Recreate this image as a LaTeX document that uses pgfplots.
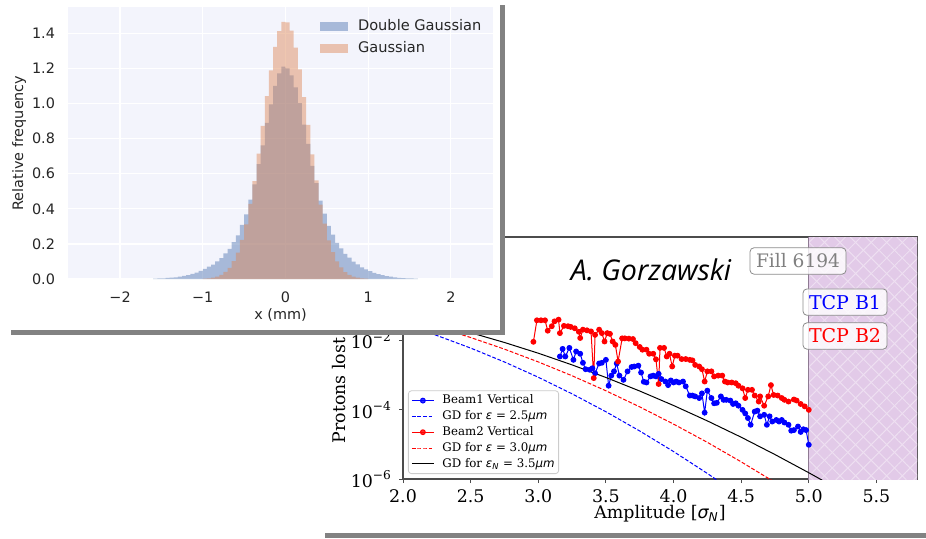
\documentclass[border=0pt]{standalone}
\usepackage{fontspec}
\setmainfont{DejaVu Serif}
\newfontfamily\dvsans{DejaVu Sans}
\newfontfamily\osans{Open Sans}
\usepackage{pgfplots}
\pgfplotsset{compat=1.18}
\usetikzlibrary{patterns.meta}
\definecolor{histbg}{HTML}{F3F4FC}
\definecolor{dgblue}{HTML}{4C72B0}
\definecolor{gorange}{HTML}{DD8452}
\definecolor{tcpfill}{HTML}{E2CAE8}
\definecolor{tcpedge}{HTML}{8E7A92}
\definecolor{shadow}{HTML}{828282}

\begin{document}
\begin{tikzpicture}
\path[use as bounding box] (0,0) rectangle (463pt,-269pt);

% ---- lower panel: loss profile (log) ----
\begin{axis}[
  at={(201.5pt,-239.5pt)}, anchor=south west, scale only axis,
  width=257pt, height=121pt,
  ymode=log, xmin=2, xmax=5.8, ymin=1e-6, ymax=10,
  xtick={2,2.5,3,3.5,4,4.5,5,5.5},
  xticklabels={2.0,2.5,3.0,3.5,4.0,4.5,5.0,5.5},
  ytick={1e-6,1e-4,1e-2,1},
  yticklabels={10\textsuperscript{−6},10\textsuperscript{−4},10\textsuperscript{−2},10\textsuperscript{0}},
  yminorticks=false,
  tick pos=left, tick align=outside, major tick length=2pt,
  axis line style={black!70, line width=0.6pt},
  tick style={black!70, line width=0.5pt},
  tick label style={font=\fontsize{8.7}{10}\selectfont},
  xlabel={Amplitude [{\dvsans\itshape σ\textsubscript{N}}]},
  xlabel style={at={(axis description cs:0.5,-0.145)}, anchor=center, font=\fontsize{8.7}{10}\selectfont},
  ylabel={Protons lost},
  ylabel style={at={(axis description cs:-0.1245,0.118)}, anchor=west, font=\fontsize{8.7}{10}\selectfont},
  legend style={at={(axis description cs:0.0097,0.0207)}, anchor=south west,
    font=\fontsize{5.9}{6.5}\selectfont, draw=black!20, rounded corners=1.5pt,
    fill=white, fill opacity=0.8, text opacity=1, inner sep=1.5pt, row sep=1.1pt,
    nodes={inner sep=0.5pt, text height=4.5pt, text depth=1.3pt},
    /tikz/every odd column/.append style={column sep=3.5pt}},
  legend cell align=left,
  legend image code/.code={\draw[mark repeat=2,mark phase=2,#1] plot coordinates {(0pt,0pt)(5.5pt,0pt)(11pt,0pt)};},
]
% collimator region
\addplot[fill=tcpfill, draw=none, forget plot] coordinates {(5,1e-7) (6,1e-7) (6,100) (5,100)};
\addplot[pattern={Lines[angle=45,distance=5.5pt,line width=0.5pt]}, pattern color=white!40!tcpfill, draw=none, forget plot]
  coordinates {(5,1e-7) (6,1e-7) (6,100) (5,100)};
\addplot[pattern={Lines[angle=-45,distance=5.5pt,line width=0.5pt]}, pattern color=white!40!tcpfill, draw=none, forget plot]
  coordinates {(5,1e-7) (6,1e-7) (6,100) (5,100)};
\addplot[tcpedge, line width=0.5pt, forget plot] coordinates {(5,1e-7) (5,100)};

\addplot[blue, line width=0.5pt, mark=*, mark size=1.2pt] coordinates {
(3.16,3.5e-3) (3.18,5.8e-3) (3.20,3.5e-3) (3.23,6.2e-3) (3.26,2.8e-3) (3.28,4.9e-3)
(3.31,4.2e-3) (3.33,2.3e-3) (3.35,1.5e-3) (3.38,1.45e-3) (3.40,1.6e-3) (3.42,1.15e-3)
(3.45,2.2e-3) (3.47,2.3e-3) (3.50,2.8e-3) (3.52,5.0e-4) (3.54,9.8e-4) (3.56,1.3e-3)
(3.58,2.2e-3) (3.60,9.8e-4) (3.63,7.4e-4) (3.66,1.3e-3) (3.69,1.74e-3) (3.71,1.8e-3)
(3.74,1.9e-3) (3.76,1.2e-3) (3.78,6.5e-4) (3.80,6.2e-4) (3.83,9.3e-4) (3.85,9.8e-4)
(3.87,9.3e-4) (3.89,1.1e-3) (3.91,7.8e-4) (3.94,6.6e-4) (3.96,5.2e-4) (3.98,7.1e-4)
(4.00,6.2e-4) (4.02,6.6e-4) (4.04,6.2e-4) (4.07,6.6e-4) (4.09,4.8e-4) (4.12,2.6e-4)
(4.14,2.6e-4) (4.16,2.45e-4) (4.19,2.2e-4) (4.21,3.0e-4) (4.23,8.3e-5) (4.25,3.6e-4)
(4.28,2.2e-4) (4.30,1.55e-4) (4.32,1.6e-4) (4.35,2.45e-4) (4.37,1.95e-4) (4.39,1.95e-4)
(4.42,1.86e-4) (4.44,1.48e-4) (4.46,1.55e-4) (4.48,1.32e-4) (4.51,1.0e-4) (4.53,7.9e-5)
(4.55,5.8e-5) (4.57,3.7e-5) (4.60,8.9e-5) (4.62,9.5e-5) (4.64,6.5e-5) (4.67,7.2e-5)
(4.69,3.7e-5) (4.71,6.5e-5) (4.73,4.6e-5) (4.76,5.1e-5) (4.78,4.6e-5) (4.80,5.1e-5)
(4.82,4.3e-5) (4.85,3.7e-5) (4.87,2.5e-5) (4.89,2.6e-5) (4.92,3.3e-5) (4.94,2.3e-5)
(4.96,2.75e-5) (4.98,2.6e-5) (5.00,9.8e-6)};
\addlegendentry{Beam1 Vertical}
\addplot[blue, line width=0.5pt, dash pattern=on 1.9pt off 0.9pt] coordinates {
(2.0,3.01e-2) (2.25,1.42e-2) (2.5,6.14e-3) (2.75,2.43e-3) (3.0,8.8e-4) (3.25,2.91e-4)
(3.5,8.83e-5) (3.75,2.45e-5) (4.0,6.24e-6) (4.25,1.45e-6) (4.5,3.1e-7)};
\addlegendentry{GD for {\dvsans\itshape ε} = 2.5{\dvsans\itshape μm}}
\addplot[red, line width=0.5pt, mark=*, mark size=1.2pt] coordinates {
(2.964,9.3e-3) (2.99,3.9e-2) (3.02,3.9e-2) (3.05,3.9e-2) (3.07,1.95e-2) (3.10,2.63e-2)
(3.12,3.63e-2) (3.15,4.07e-2) (3.16,1.66e-2) (3.19,2.69e-2) (3.22,2.63e-2) (3.24,2.51e-2)
(3.27,2.29e-2) (3.30,1.82e-2) (3.31,1.20e-2) (3.33,2.09e-2) (3.36,2.0e-2) (3.39,1.86e-2)
(3.41,8.3e-4) (3.42,1.48e-2) (3.45,2.09e-2) (3.47,1.66e-2) (3.49,9.5e-3) (3.51,1.66e-2)
(3.53,1.58e-2) (3.55,9.5e-3) (3.57,7.6e-3) (3.59,2.5e-3) (3.62,1.17e-2) (3.64,1.17e-2)
(3.67,1.15e-2) (3.70,1.12e-2) (3.72,8.5e-3) (3.75,6.6e-3) (3.77,5.5e-3) (3.80,5.5e-3)
(3.82,4.2e-3) (3.85,4.2e-3) (3.87,2.9e-3) (3.89,5.6e-4) (3.90,6.2e-3) (3.93,6.2e-3)
(3.95,3.5e-3) (3.97,4.2e-3) (3.99,1.8e-3) (4.01,3.7e-3) (4.03,3.7e-3) (4.06,2.95e-3)
(4.09,2.95e-3) (4.12,2.8e-3) (4.14,2.7e-3) (4.16,2.0e-3) (4.19,1.8e-3) (4.21,1.5e-3)
(4.23,6.6e-4) (4.25,1.3e-3) (4.28,1.3e-3) (4.30,9.3e-4) (4.33,9.8e-4) (4.36,9.8e-4)
(4.38,6.6e-4) (4.40,6.2e-4) (4.43,6.2e-4) (4.46,5.9e-4) (4.48,5.0e-4) (4.51,4.2e-4)
(4.53,2.2e-4) (4.55,3.8e-4) (4.58,3.8e-4) (4.60,2.6e-4) (4.63,1.74e-4) (4.64,2.45e-4)
(4.67,1.32e-4) (4.70,2.45e-4) (4.72,5.2e-4) (4.74,2.7e-4) (4.77,2.6e-4) (4.80,2.2e-4)
(4.82,1.95e-4) (4.85,1.74e-4) (4.89,2.0e-4) (4.91,1.86e-4) (4.94,1.48e-4) (4.97,1.26e-4)
(5.00,1.0e-4)};
\addlegendentry{Beam2 Vertical}
\addplot[red, line width=0.5pt, dash pattern=on 1.9pt off 0.9pt] coordinates {
(2.0,4.71e-2) (2.25,2.51e-2) (2.5,1.24e-2) (2.75,5.71e-3) (3.0,2.44e-3) (3.25,9.7e-4)
(3.5,3.57e-4) (3.75,1.22e-4) (4.0,3.88e-5) (4.25,1.15e-5) (4.5,3.14e-6) (4.75,8.0e-7)};
\addlegendentry{GD for {\dvsans\itshape ε} = 3.0{\dvsans\itshape μm}}
\addplot[black, line width=0.5pt] coordinates {
(2.0,5.24e-2) (2.25,3.09e-2) (2.5,1.71e-2) (2.75,8.9e-3) (3.0,4.36e-3) (3.25,2.0e-3)
(3.5,8.65e-4) (3.75,3.51e-4) (4.0,1.34e-4) (4.25,4.8e-5) (4.5,1.62e-5) (4.75,5.1e-6)
(5.0,1.52e-6) (5.1,9.2e-7)};
\addlegendentry{GD for {\dvsans\itshape ε\textsubscript{N}} = 3.5{\dvsans\itshape μm}}

\node[font=\osans\itshape\fontsize{14.3}{16}\selectfont] at (rel axis cs:0.4825,0.864) {A. Gorzawski};
\node[draw=black!45, rounded corners=2pt, fill=white, fill opacity=0.8, text opacity=1,
  text=black!50, inner sep=3pt, font=\fontsize{9.3}{11}\selectfont] at (rel axis cs:0.7685,0.901) {Fill 6194};
\node[draw=black!45, rounded corners=2pt, fill=white, fill opacity=0.8, text opacity=1,
  text=blue, inner sep=3pt, font=\fontsize{9.5}{11}\selectfont] at (rel axis cs:0.86,0.731) {TCP B1};
\node[draw=black!45, rounded corners=2pt, fill=white, fill opacity=0.8, text opacity=1,
  text=red, inner sep=3pt, font=\fontsize{9.5}{11}\selectfont] at (rel axis cs:0.86,0.591) {TCP B2};
\end{axis}

% panel frames
\fill[white] (0pt,0pt) rectangle (250pt,-165pt);
\fill[shadow] (5.5pt,-165pt) rectangle (252.5pt,-167.5pt);
\fill[shadow] (250pt,-2.5pt) rectangle (252.5pt,-167.5pt);
\fill[shadow] (162.5pt,-266.5pt) rectangle (463pt,-269pt);

% ---- upper panel: histogram ----
\begin{axis}[
  at={(34pt,-139.5pt)}, anchor=south west, scale only axis,
  width=212.5pt, height=136pt,
  xmin=-2.63, xmax=2.51, ymin=0, ymax=1.55,
  axis background/.style={fill=histbg},
  grid=major, grid style={white, line width=0.6pt},
  axis line style={draw=none}, major tick length=0pt,
  xtick={-2,-1,0,1,2}, xticklabels={−2,−1,0,1,2},
  ytick={0,0.2,0.4,0.6,0.8,1.0,1.2,1.4},
  yticklabels={0.0,0.2,0.4,0.6,0.8,1.0,1.2,1.4},
  tick label style={font=\dvsans\fontsize{7.2}{8.5}\selectfont, text=black!85},
  xticklabel style={yshift=-3pt}, yticklabel style={xshift=-3pt},
  xlabel={x (mm)}, ylabel={Relative frequency},
  label style={font=\dvsans\fontsize{7.2}{8.5}\selectfont, text=black!85},
  xlabel style={at={(axis description cs:0.5,-0.132)}, anchor=center},
  ylabel style={at={(axis description cs:-0.115,0.5)}, anchor=center},
  legend style={at={(axis description cs:0.578,0.985)}, anchor=north west, draw=none, fill=none,
    font=\dvsans\fontsize{7.3}{8.5}\selectfont, text=black!85, row sep=0pt,
    /tikz/every odd column/.append style={column sep=3pt}},
  legend cell align=left,
  legend image code/.code={\fill[#1] (0pt,-2.25pt) rectangle (14pt,2.25pt);},
]
\addplot[const plot, fill=dgblue, fill opacity=0.45, draw=none] coordinates {
(-1.60,0.002) (-1.55,0.003) (-1.50,0.004) (-1.45,0.006) (-1.40,0.008) (-1.35,0.010)
(-1.30,0.014) (-1.25,0.018) (-1.20,0.022) (-1.15,0.029) (-1.10,0.036) (-1.05,0.046)
(-1.00,0.058) (-0.95,0.070) (-0.90,0.082) (-0.85,0.101) (-0.80,0.119) (-0.75,0.146)
(-0.70,0.172) (-0.65,0.210) (-0.60,0.249) (-0.55,0.308) (-0.50,0.368) (-0.45,0.452)
(-0.40,0.540) (-0.35,0.655) (-0.30,0.762) (-0.25,0.890) (-0.20,0.995) (-0.15,1.100)
(-0.10,1.172) (-0.05,1.210) (0.00,1.200) (0.05,1.160) (0.10,1.092) (0.15,1.003)
(0.20,0.880) (0.25,0.770) (0.30,0.645) (0.35,0.546) (0.40,0.447) (0.45,0.372)
(0.50,0.303) (0.55,0.253) (0.60,0.206) (0.65,0.175) (0.70,0.143) (0.75,0.122)
(0.80,0.099) (0.85,0.084) (0.90,0.067) (0.95,0.055) (1.00,0.045) (1.05,0.035)
(1.10,0.028) (1.15,0.022) (1.20,0.017) (1.25,0.013) (1.30,0.010) (1.35,0.007)
(1.40,0.005) (1.45,0.004) (1.50,0.003) (1.55,0.002) (1.60,0.002)} \closedcycle;
\addlegendentry{Double Gaussian}
\addplot[const plot, fill=gorange, fill opacity=0.45, draw=none] coordinates {
(-1.00,0.002) (-0.95,0.004) (-0.90,0.008) (-0.85,0.014) (-0.80,0.024) (-0.75,0.041)
(-0.70,0.064) (-0.65,0.102) (-0.60,0.151) (-0.55,0.223) (-0.50,0.311) (-0.45,0.428)
(-0.40,0.558) (-0.35,0.714) (-0.30,0.872) (-0.25,1.042) (-0.20,1.189) (-0.15,1.323)
(-0.10,1.412) (-0.05,1.466) (0.00,1.462) (0.05,1.416) (0.10,1.319) (0.15,1.195)
(0.20,1.036) (0.25,0.878) (0.30,0.710) (0.35,0.562) (0.40,0.424) (0.45,0.315)
(0.50,0.220) (0.55,0.153) (0.60,0.100) (0.65,0.066) (0.70,0.039) (0.75,0.024)
(0.80,0.013) (0.85,0.008) (0.90,0.004) (0.95,0.002) (1.00,0.002)} \closedcycle;
\addlegendentry{Gaussian}
\end{axis}
\end{tikzpicture}
\end{document}
